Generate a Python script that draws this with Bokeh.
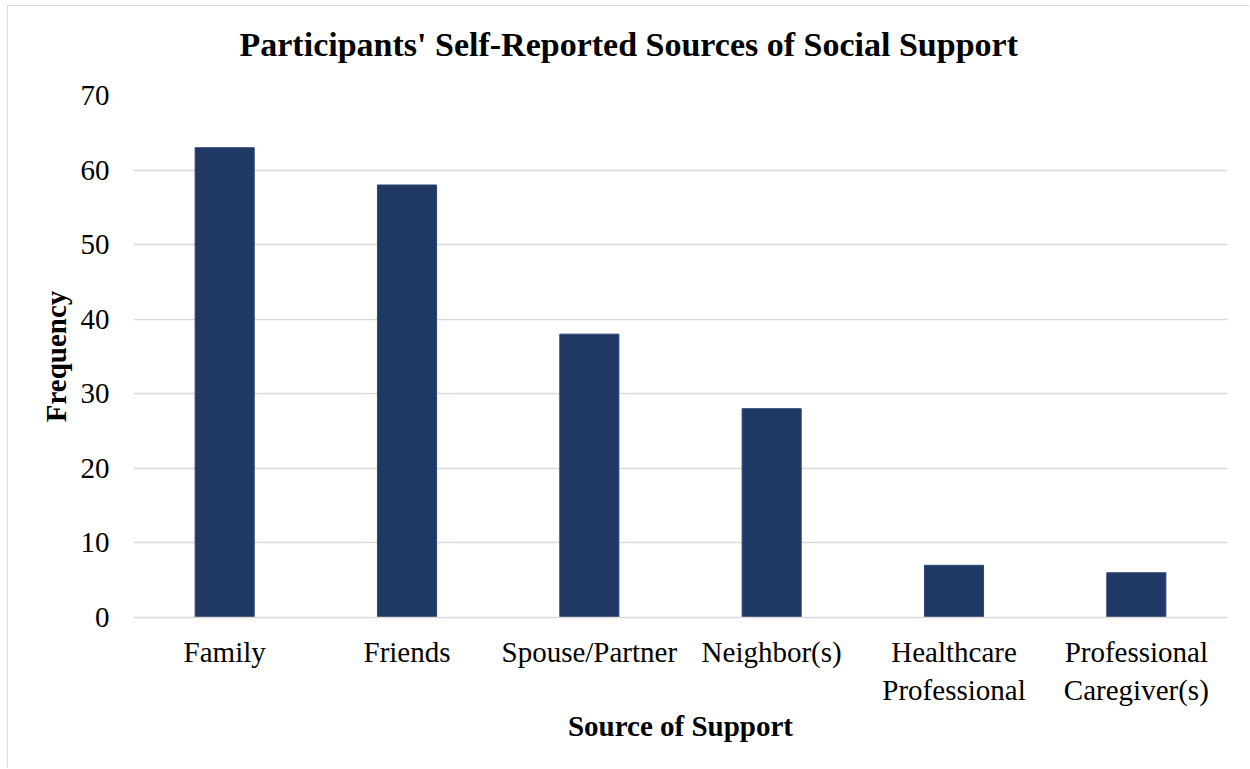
from bokeh.plotting import figure
from bokeh.models import ColumnDataSource, FixedTicker, Title
from bokeh.embed import file_html
from bokeh.resources import INLINE

categories = ["Family", "Friends", "Spouse/Partner", "Neighbor(s)",
              "Healthcare\nProfessional", "Professional\nCaregiver(s)"]
frequency = [63, 58, 38, 28, 7, 6]
y_ticks = [0, 10, 20, 30, 40, 50, 60, 70]
title_text = "Participants' Self-Reported Sources of Social Support"

FONT = "Liberation Serif"

src = ColumnDataSource(data=dict(cat=categories, freq=frequency))

p = figure(x_range=categories, y_range=(0, 70),
           width=1242, height=763,
           output_backend="svg", toolbar_location=None,
           title=None,
           min_border_left=125, min_border_right=23,
           min_border_top=89, min_border_bottom=152)
p.styles = {"margin-left": "7px", "margin-top": "5px",
            "border-left": "1px solid #d9d9d9", "border-top": "1px solid #d9d9d9"}

# spacer between frame and title (closest to frame)
p.add_layout(Title(text=" ", text_font_size="1px", standoff=25), "above")
main_title = Title(text=title_text, text_font=FONT, text_font_size="34px",
                   text_font_style="bold", text_color="#000000",
                   align="left", offset=106, standoff=10)
p.add_layout(main_title, "above")

p.vbar(x="cat", top="freq", width=0.324, source=src,
       fill_color="#203864", line_color="#2c4573", line_width=1)

p.outline_line_color = None
p.background_fill_color = "white"
p.border_fill_color = "white"

p.xgrid.grid_line_color = None
p.ygrid.grid_line_color = "#d9d9d9"
p.ygrid.grid_line_width = 1.5

p.yaxis.ticker = FixedTicker(ticks=y_ticks)
for ax in (p.xaxis, p.yaxis):
    ax.axis_line_color = None
    ax.major_tick_line_color = None
    ax.minor_tick_line_color = None
    ax.major_label_text_font = FONT
    ax.major_label_text_font_size = "29px"
    ax.major_label_text_color = "#000000"
    ax.axis_label_text_font = FONT
    ax.axis_label_text_font_size = "29px"
    ax.axis_label_text_font_style = "bold"
    ax.axis_label_text_color = "#000000"

p.xaxis.axis_line_color = "#d9d9d9"
p.xaxis.axis_line_width = 1.5
p.xaxis.axis_label = "Source of Support"
p.yaxis.axis_label = "Frequency"
p.yaxis.major_label_standoff = 18
p.xaxis.major_label_standoff = 12
p.yaxis.axis_label_standoff = 6
p.xaxis.axis_label_standoff = 1

open("out.html", "w").write(file_html(p, INLINE))
